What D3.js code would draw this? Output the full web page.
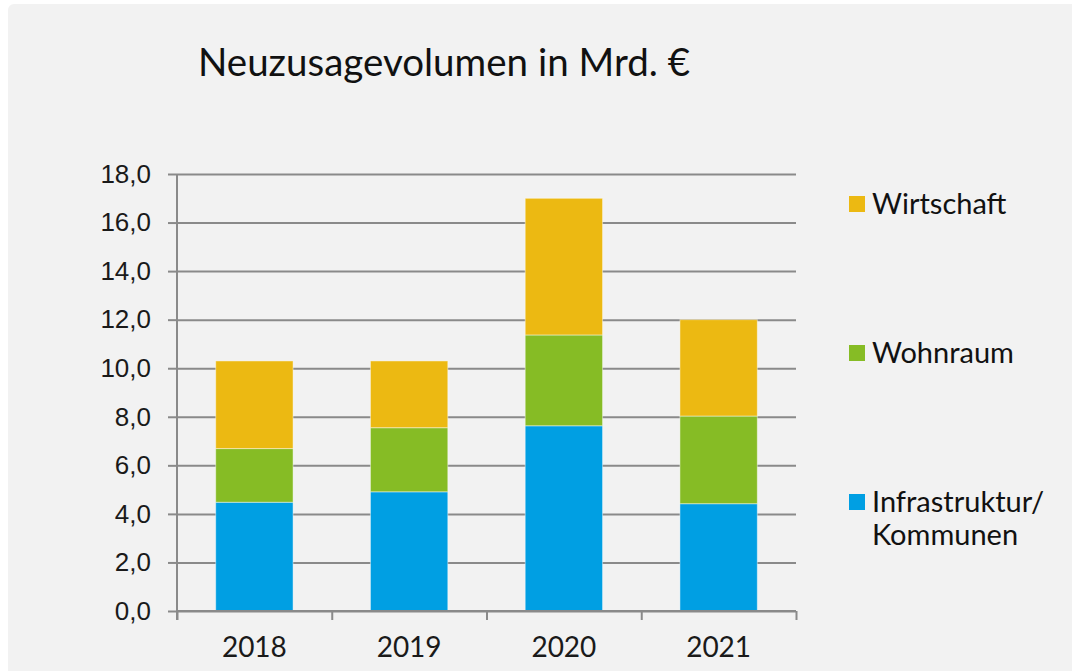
<!DOCTYPE html>
<html>
<head>
<meta charset="utf-8">
<script src="https://cdn.jsdelivr.net/npm/d3@7"></script>
<style>
  html, body { margin: 0; padding: 0; background: #ffffff; }
  svg { display: block; font-family: Lato, "Noto Sans", sans-serif; }
</style>
</head>
<body>
<div id="chart"></div>
<script>
// Daten
const jahre = ["2018", "2019", "2020", "2021"];
const infrastruktur = [4.48, 4.91, 7.63, 4.42];
const wohnraum = [2.21, 2.64, 3.74, 3.61];
const wirtschaft = [3.61, 2.75, 5.63, 3.97];
const yTicks = [0, 2, 4, 6, 8, 10, 12, 14, 16, 18];
const serien = [
  { name: "Infrastruktur/Kommunen", zeilen: ["Infrastruktur/", "Kommunen"], werte: infrastruktur, farbe: "#009fe3" },
  { name: "Wohnraum", zeilen: ["Wohnraum"], werte: wohnraum, farbe: "#86bc25" },
  { name: "Wirtschaft", zeilen: ["Wirtschaft"], werte: wirtschaft, farbe: "#ecb912" }
];

const largura = 1072, altura = 671;
const margem = { top: 174, right: 276, bottom: 60, left: 177 };

const svg = d3.select("#chart").append("svg")
  .attr("width", largura)
  .attr("height", altura);

// Hintergrund
svg.append("rect")
  .attr("x", 8).attr("y", 4)
  .attr("width", largura + 20).attr("height", altura + 20)
  .attr("rx", 6)
  .attr("fill", "#f2f2f2");

const x = d3.scaleBand()
  .domain(jahre)
  .range([margem.left, largura - margem.right])
  .paddingInner(0.5)
  .paddingOuter(0.25);

const xGrenzen = d3.scaleLinear()
  .domain([0, jahre.length])
  .range([margem.left, largura - margem.right]);

const y = d3.scaleLinear()
  .domain([0, 18])
  .range([altura - margem.bottom, margem.top]);

const de = d3.formatLocale({ decimal: ",", thousands: ".", grouping: [3], currency: ["", " €"] });
const fmt = de.format(".1f");

// Gitternetz + y-Achse
const yAxis = svg.append("g")
  .attr("transform", `translate(${margem.left},0)`)
  .call(d3.axisLeft(y)
    .tickValues(yTicks)
    .tickFormat(fmt)
    .tickSize(9)
    .tickPadding(17));
yAxis.select(".domain").remove();
yAxis.selectAll(".tick line").attr("stroke", "#8a8a8a").attr("stroke-width", 2);
yAxis.selectAll(".tick").append("line")
  .attr("x1", 0).attr("x2", largura - margem.right - margem.left)
  .attr("stroke", "#8a8a8a").attr("stroke-width", 2);
yAxis.selectAll("text")
  .attr("fill", "#1a1a1a")
  .style("font-size", "26px");

// gestapelte Balken
const stapel = d3.stack()
  .keys(serien.map((s, i) => i))
  .value((d, k) => serien[k].werte[d])(jahre.map((j, i) => i));

svg.append("g").selectAll("g")
  .data(stapel)
  .join("g")
  .attr("fill", (d, i) => serien[i].farbe)
  .selectAll("rect")
  .data(d => d)
  .join("rect")
  .attr("x", d => x(jahre[d.data]))
  .attr("width", x.bandwidth())
  .attr("y", d => y(d[1]))
  .attr("height", d => y(d[0]) - y(d[1]))
  .attr("stroke", "rgba(255,255,255,0.45)")
  .attr("stroke-width", 1);

// x-Achse
const xAxis = svg.append("g")
  .attr("transform", `translate(0,${y(0)})`)
  .call(d3.axisBottom(xGrenzen).ticks(4).tickSize(9).tickFormat(""));
xAxis.selectAll(".domain").attr("stroke", "#8a8a8a").attr("stroke-width", 2).attr("d", `M${margem.left},0H${largura - margem.right}`);
xAxis.selectAll(".tick line").attr("stroke", "#8a8a8a").attr("stroke-width", 2);

// y-Achsenlinie
svg.append("line")
  .attr("x1", margem.left).attr("x2", margem.left)
  .attr("y1", y(18)).attr("y2", y(0) + 9)
  .attr("stroke", "#8a8a8a").attr("stroke-width", 2);

svg.append("g").selectAll("text")
  .data(jahre)
  .join("text")
  .attr("x", d => x(d) + x.bandwidth() / 2)
  .attr("y", 657)
  .attr("text-anchor", "middle")
  .attr("fill", "#1a1a1a")
  .style("font-size", "28px")
  .text(d => d);

// Titel
svg.append("text")
  .attr("x", 198)
  .attr("y", 76)
  .attr("fill", "#111")
  .style("font-size", "38.5px")
  .text("Neuzusagevolumen in Mrd. €");

// Legende
const legY = { "Wirtschaft": 204, "Wohnraum": 353, "Infrastruktur/Kommunen": 502 };
const leg = svg.append("g").selectAll("g")
  .data(serien)
  .join("g")
  .attr("transform", d => `translate(849,${legY[d.name]})`);
leg.append("rect")
  .attr("x", 0).attr("y", -8)
  .attr("width", 16).attr("height", 16)
  .attr("fill", d => d.farbe);
leg.append("text")
  .attr("x", 23)
  .attr("y", 10)
  .attr("fill", "#111")
  .style("font-size", "29px")
  .selectAll("tspan")
  .data(d => d.zeilen)
  .join("tspan")
  .attr("x", 23)
  .attr("dy", (d, i) => i === 0 ? 0 : 33)
  .text(d => d);
</script>
</body>
</html>
